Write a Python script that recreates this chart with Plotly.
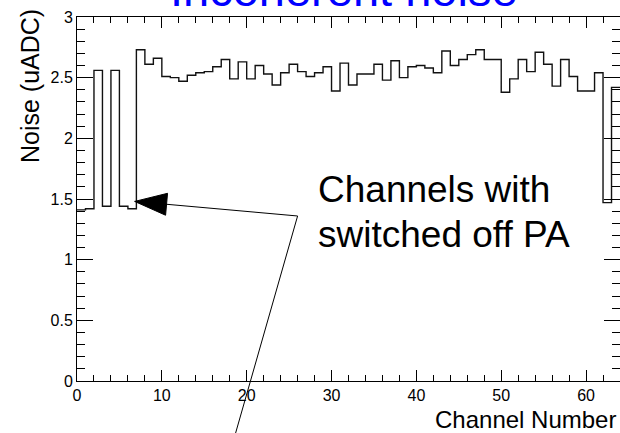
import plotly.graph_objects as go

# Noise per readout channel (uADC)
channels = list(range(64))
noise = [1.41, 1.42, 2.56, 1.44, 2.56, 1.44, 1.42, 2.73, 2.61, 2.66,
         2.51, 2.50, 2.47, 2.52, 2.54, 2.55, 2.59, 2.65, 2.49, 2.63,
         2.49, 2.60, 2.53, 2.44, 2.54, 2.61, 2.55, 2.51, 2.54, 2.59,
         2.39, 2.62, 2.44, 2.53, 2.53, 2.61, 2.48, 2.64, 2.50, 2.59,
         2.60, 2.58, 2.54, 2.72, 2.60, 2.65, 2.69, 2.73, 2.65, 2.65,
         2.38, 2.49, 2.65, 2.55, 2.71, 2.61, 2.43, 2.65, 2.51, 2.39,
         2.39, 2.54, 1.47, 2.42]

title_text = "Incoherent noise"
x_title = "Channel Number"
y_title = "Noise (uADC)"
note_lines = ["Channels with", "switched off PA"]

# Figure geometry
W, H = 620, 433
ML, MR, MT, MB = 77, 0, 17, 52
X0, X1 = 0, 64
Y0, Y1 = 0, 3
PW, PH = W - ML - MR, H - MT - MB
FONT = "Liberation Sans, Arial, Helvetica, sans-serif"


def data_to_px(x, y):
    return (ML + (x - X0) / (X1 - X0) * PW, MT + (Y1 - y) / (Y1 - Y0) * PH)


def px_to_paper(px, py):
    return ((px - ML) / PW, (H - MB - py) / PH)


# Histogram outline: bin edges with step drawing
edges = channels + [channels[-1] + 1]
heights = noise + [noise[-1]]

fig = go.Figure()
fig.add_trace(go.Scatter(
    x=edges, y=heights, mode="lines", line_shape="hv",
    line=dict(color="#111111", width=1.4), hoverinfo="skip", showlegend=False,
))

# Pointer lines: arrow to the low channels and a second leg running downwards
tip = (6.8, 1.48)
knee = (26.0, 1.36)
tail = (18.2, -0.55)

tip_px = data_to_px(*tip)
knee_px = data_to_px(*knee)
tail_px = data_to_px(*tail)

shapes = []
for a, b in [(tip_px, knee_px), (knee_px, tail_px)]:
    pa, pb = px_to_paper(*a), px_to_paper(*b)
    shapes.append(dict(type="line", xref="paper", yref="paper",
                       x0=pa[0], y0=pa[1], x1=pb[0], y1=pb[1],
                       line=dict(color="black", width=1)))

# Filled arrowhead
dx, dy = knee_px[0] - tip_px[0], knee_px[1] - tip_px[1]
norm = (dx ** 2 + dy ** 2) ** 0.5
ux, uy = dx / norm, dy / norm
head_len, head_half = 32, 11
bx, by = tip_px[0] + ux * head_len, tip_px[1] + uy * head_len
c1 = (bx - uy * head_half, by + ux * head_half)
c2 = (bx + uy * head_half, by - ux * head_half)
pts = [px_to_paper(*p) for p in (tip_px, c1, c2)]
path = "M {} {} L {} {} L {} {} Z".format(pts[0][0], pts[0][1], pts[1][0], pts[1][1],
                                         pts[2][0], pts[2][1])
shapes.append(dict(type="path", xref="paper", yref="paper", path=path,
                   fillcolor="black", line=dict(color="black", width=1)))

annotations = [
    dict(text=title_text, xref="paper", yref="paper",
         x=px_to_paper(344, 0)[0], y=1, xanchor="center", yanchor="bottom", yshift=-1,
         showarrow=False, font=dict(family=FONT, size=47, color="rgb(0,0,255)")),
    dict(text=y_title, xref="paper", yref="paper", textangle=-90,
         x=px_to_paper(29.5, 0)[0], y=px_to_paper(0, 86.5)[1],
         xanchor="center", yanchor="middle",
         showarrow=False, font=dict(family=FONT, size=25, color="black")),
    dict(text=x_title, xref="paper", yref="paper",
         x=px_to_paper(618, 0)[0], y=px_to_paper(0, 404.3)[1],
         xanchor="right", yanchor="top",
         showarrow=False, font=dict(family=FONT, size=24, color="black")),
    dict(text=note_lines[0], xref="paper", yref="paper",
         x=px_to_paper(316, 0)[0], y=px_to_paper(0, 211.8)[1],
         xanchor="left", yanchor="bottom",
         showarrow=False, font=dict(family=FONT, size=37, color="black")),
    dict(text=note_lines[1], xref="paper", yref="paper",
         x=px_to_paper(316, 0)[0], y=px_to_paper(0, 256.8)[1],
         xanchor="left", yanchor="bottom",
         showarrow=False, font=dict(family=FONT, size=37, color="black")),
]

axis_common = dict(
    showline=True, linecolor="black", linewidth=1, mirror="ticks",
    ticks="inside", tickcolor="black", tickwidth=1,
    showgrid=False, zeroline=False,
    tickfont=dict(family=FONT, size=16, color="black"),
)

fig.update_layout(
    width=W, height=H,
    margin=dict(l=ML, r=MR, t=MT, b=MB, pad=0),
    paper_bgcolor="white", plot_bgcolor="white",
    xaxis=dict(range=[X0, X1], dtick=10, tick0=0, ticklen=11,
               minor=dict(dtick=2, ticklen=6, ticks="inside", tickcolor="black", showgrid=False),
               **axis_common),
    yaxis=dict(range=[Y0, Y1], dtick=0.5, tick0=0, ticklen=16,
               minor=dict(dtick=0.1, ticklen=8, ticks="inside", tickcolor="black", showgrid=False),
               **axis_common),
    shapes=shapes,
    annotations=annotations,
    showlegend=False,
)

fig.write_html("out.html")
